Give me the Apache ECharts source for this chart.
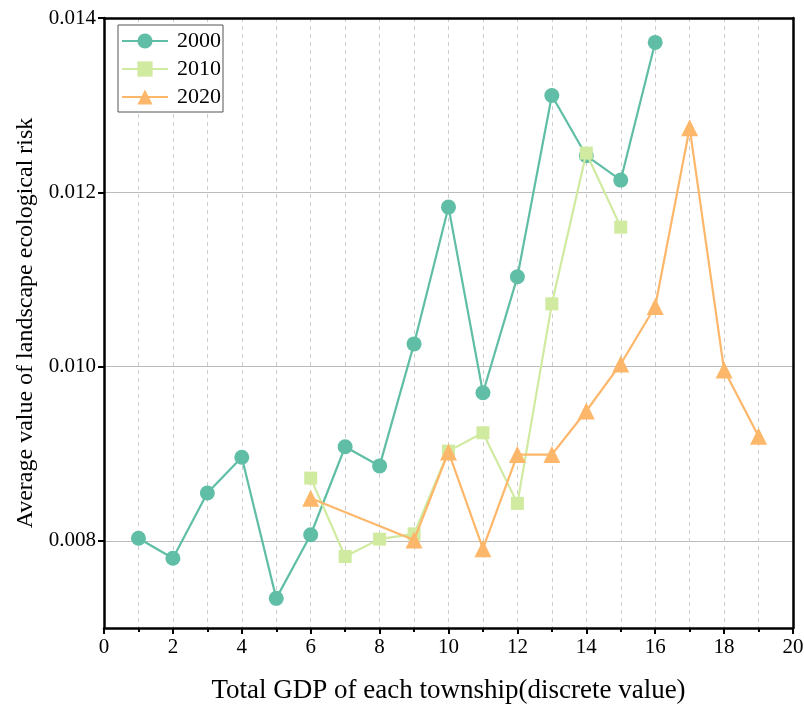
<!DOCTYPE html>
<html>
<head>
<meta charset="utf-8">
<script src="https://cdn.jsdelivr.net/npm/echarts@6/dist/echarts.min.js"></script>
<style>html,body{margin:0;padding:0;background:#fff;}#c{width:804px;height:704px;}</style>
</head>
<body>
<div id="c"></div>
<script>
const seriesNames = ['2000', '2010', '2020'];
const x2000 = [1,2,3,4,5,6,7,8,9,10,11,12,13,14,15,16];
const y2000 = [0.00803,0.00780,0.00855,0.00896,0.00734,0.00807,0.00908,0.00886,0.01026,0.01183,0.00970,0.01103,0.01311,0.01242,0.01214,0.01372];
const x2010 = [6,7,8,9,10,11,12,13,14,15];
const y2010 = [0.00872,0.00782,0.00802,0.00808,0.00903,0.00924,0.00843,0.01072,0.01245,0.01160];
const x2020 = [6,9,10,11,12,13,14,15,16,17,18,19];
const y2020 = [0.00849,0.00801,0.00902,0.00791,0.00899,0.00899,0.00949,0.01003,0.01069,0.01274,0.00996,0.00920];
const yTicks = [0.008, 0.010, 0.012, 0.014];

const pair = (xs, ys) => xs.map((x, i) => [x, ys[i]]);
const font = 'Liberation Serif';
const colors = ['#5fbea5', '#d0eaa0', '#fdb76a'];
const symbols = ['circle', 'rect', 'triangle'];
const sizes = [15, 13, 17];
const datas = [pair(x2000, y2000), pair(x2010, y2010), pair(x2020, y2020)];

const frameAxis = { show: true, axisLine: { show: true, onZero: false, lineStyle: { color: '#000', width: 2.5 } },
  axisTick: { show: false }, axisLabel: { show: false }, splitLine: { show: false } };

const chart = echarts.init(document.getElementById('c'));
chart.setOption({
  animation: false,
  backgroundColor: '#fff',
  grid: { left: 104, right: 11, top: 18, bottom: 76, outerBoundsMode: 'none', containLabel: false },
  legend: {
    orient: 'vertical', left: 118, top: 25,
    backgroundColor: '#fff', borderColor: '#555', borderWidth: 1,
    padding: [5, 2, 4, 3], itemGap: 6, itemWidth: 46, itemHeight: 19,
    textStyle: { fontFamily: font, fontSize: 22, color: '#000', padding: [0, 0, 0, 4] },
    data: seriesNames
  },
  xAxis: [{
    type: 'value', min: 0, max: 20, interval: 2,
    name: 'Total GDP of each township(discrete value)', nameLocation: 'middle', nameGap: 49,
    nameTextStyle: { fontFamily: font, fontSize: 27, color: '#000' },
    axisLine: { show: true, onZero: false, lineStyle: { color: '#000', width: 2.5 } },
    axisTick: { show: true, inside: false, length: 6, lineStyle: { color: '#000', width: 2 } },
    minorTick: { show: true, splitNumber: 2, length: 4, lineStyle: { color: '#000', width: 2 } },
    axisLabel: { fontFamily: font, fontSize: 21, color: '#000', margin: 9 },
    splitLine: { show: true, lineStyle: { color: '#cccccc', type: [4, 4], width: 1 } },
    minorSplitLine: { show: true, lineStyle: { color: '#cccccc', type: [4, 4], width: 1 } }
  }, Object.assign({ type: 'value', min: 0, max: 20, position: 'top' }, frameAxis)],
  yAxis: [{
    type: 'value', min: 0.007, max: 0.014,
    name: 'Average value of landscape ecological risk', nameLocation: 'middle', nameGap: 56,
    nameTextStyle: { fontFamily: font, fontSize: 24, color: '#000' },
    axisLine: { show: true, onZero: false, lineStyle: { color: '#000', width: 2.5 } },
    axisTick: { show: true, inside: false, length: 6, lineStyle: { color: '#000', width: 2 }, customValues: yTicks },
    axisLabel: { fontFamily: font, fontSize: 21, color: '#000', margin: 8, customValues: yTicks,
      formatter: v => v.toFixed(3) },
    splitLine: { show: true, lineStyle: { color: '#bbbbbb', width: 1.2 } }
  }, Object.assign({ type: 'value', min: 0.007, max: 0.014, position: 'right' }, frameAxis)],
  series: seriesNames.map((n, i) => ({
    name: n, type: 'line', data: datas[i],
    symbol: symbols[i], symbolSize: sizes[i],
    lineStyle: { color: colors[i], width: 2.2 },
    itemStyle: { color: colors[i] },
    z: 3 + i
  }))
});
</script>
</body>
</html>
